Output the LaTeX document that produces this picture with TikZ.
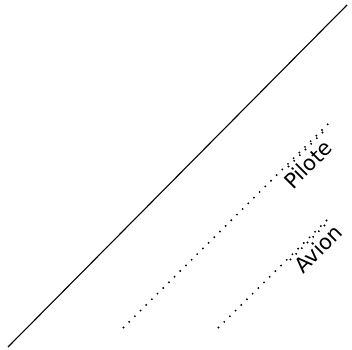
\documentclass[tikz,border=0pt]{standalone}
\usepackage{fontspec}
\setmainfont{DejaVu Sans}
\begin{document}
\begin{tikzpicture}[x=1pt,y=-1pt,
  solidline/.style={line width=1.1pt},
  dotline/.style={line width=1.5pt,dash pattern=on 1.5pt off 6.5pt},
  lbl/.style={font=\fontsize{21}{24}\selectfont,rotate=45,inner sep=0pt}]
\useasboundingbox (0,0) rectangle (352,349);
\coordinate (s1) at (8,347);
\coordinate (s2) at (347,5);
\draw[solidline] (s1) -- (s2);
\coordinate (p1) at (123,328);
\coordinate (p2) at (330,122);
\draw[dotline] (p1) -- (p2);
\coordinate (p3) at (288,167);
\coordinate (p4) at (326,129);
\draw[dotline] (p3) -- (p4);
\coordinate (a1) at (218,328);
\coordinate (a2) at (330,217);
\draw[dotline] (a1) -- (a2);
\coordinate (a3) at (290,260);
\coordinate (a4) at (326,224);
\draw[dotline] (a3) -- (a4);
\node[lbl] (pil) at (308,164) {Pilote};
\node[lbl] (avi) at (318,249) {Avion};
\end{tikzpicture}
\end{document}
